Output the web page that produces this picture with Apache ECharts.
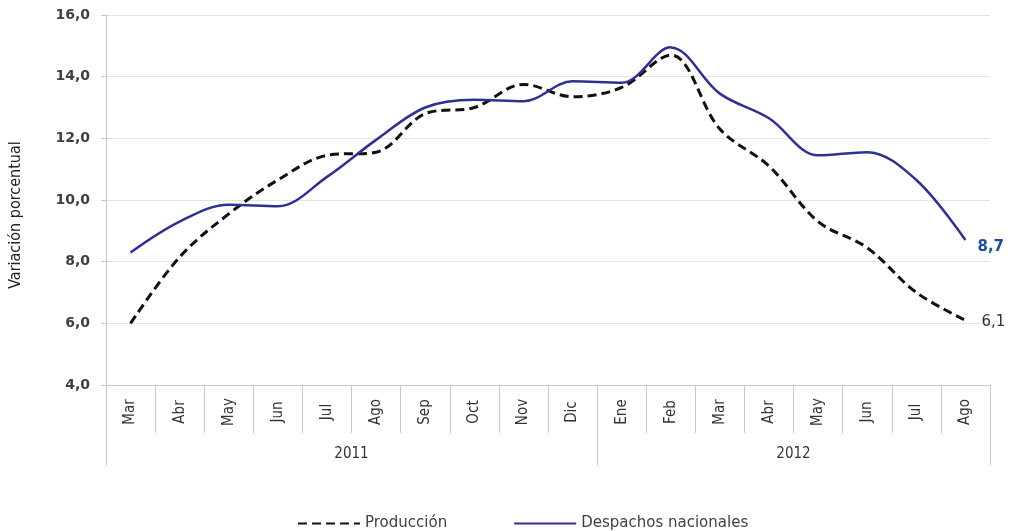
<!DOCTYPE html>
<html>
<head>
<meta charset="utf-8">
<script src="https://cdn.jsdelivr.net/npm/echarts@6/dist/echarts.min.js"></script>
<style>
  html, body { margin: 0; padding: 0; background: #fff; }
  #chart { width: 1018px; height: 531px; }
</style>
</head>
<body>
<div id="chart"></div>
<script>
// months Mar 2011 .. Ago 2012
const months = ['Mar', 'Abr', 'May', 'Jun', 'Jul', 'Ago', 'Sep', 'Oct', 'Nov', 'Dic',
  'Ene', 'Feb', 'Mar', 'Abr', 'May', 'Jun', 'Jul', 'Ago'];
const yearOfMonth = ['2011', '2011', '2011', '2011', '2011', '2011', '2011', '2011', '2011', '2011',
  '2012', '2012', '2012', '2012', '2012', '2012', '2012', '2012'];
const produccion = [6.0, 8.15, 9.55, 10.65, 11.45, 11.55, 12.8, 13.0, 13.75, 13.35,
  13.65, 14.7, 12.3, 11.1, 9.3, 8.45, 7.0, 6.1];
const despachos = [8.3, 9.3, 9.85, 9.8, 10.75, 11.95, 13.0, 13.25, 13.2, 13.85,
  13.8, 14.95, 13.45, 12.65, 11.45, 11.55, 10.65, 8.7];
const yTicks = [4, 16, 2]; // min, max, step

const fmt = v => Number(v).toFixed(1).replace('.', ',');
const narrow = '"Liberation Sans Narrow", "DejaVu Sans Condensed", sans-serif';
const gridColor = '#c8c8c8';

// first index of each year and the label slot for it (centred via padding)
const yearStarts = [0, 10];
const yearLabelAt = [4, 13];

const chart = echarts.init(document.getElementById('chart'), null, { renderer: 'canvas' });

chart.setOption({
  animation: false,
  grid: { left: 104, right: 28, top: 15, bottom: 146 },
  legend: {
    left: 292,
    top: 511,
    itemWidth: 62,
    itemHeight: 12,
    itemGap: 66,
    itemStyle: { opacity: 0 },
    textStyle: { fontFamily: 'DejaVu Sans', fontSize: 15, color: '#404040' },
    data: ['Producción', 'Despachos nacionales']
  },
  xAxis: [
    {
      type: 'category',
      data: months,
      boundaryGap: true,
      axisLine: { lineStyle: { color: gridColor, width: 1 } },
      axisTick: { show: true, interval: 0, length: 48, lineStyle: { color: gridColor } },
      axisLabel: {
        interval: 0,
        rotate: 90,
        align: 'center',
        margin: 27,
        fontFamily: narrow,
        fontSize: 15,
        color: '#333'
      }
    },
    {
      type: 'category',
      data: months,
      position: 'bottom',
      boundaryGap: true,
      axisLine: { show: false },
      axisTick: {
        show: true,
        length: 80,
        interval: i => yearStarts.indexOf(i) >= 0,
        lineStyle: { color: gridColor }
      },
      axisLabel: {
        interval: i => yearLabelAt.indexOf(i) >= 0,
        formatter: (v, i) => yearOfMonth[i],
        margin: 62,
        padding: [0, 0, 0, 49],
        fontFamily: narrow,
        fontSize: 15,
        color: '#333'
      }
    }
  ],
  yAxis: {
    type: 'value',
    min: yTicks[0],
    max: yTicks[1],
    interval: yTicks[2],
    name: 'Variación porcentual',
    nameLocation: 'middle',
    nameRotate: 90,
    nameGap: 82,
    nameTextStyle: { fontFamily: narrow, fontSize: 16, color: '#222', padding: [0, 30, 0, 0] },
    axisLine: { show: true, lineStyle: { color: gridColor } },
    axisTick: { show: true, length: 5, lineStyle: { color: gridColor } },
    splitLine: { lineStyle: { color: '#e4e4e4' } },
    axisLabel: {
      formatter: v => fmt(v),
      margin: 16,
      fontFamily: 'DejaVu Sans',
      fontWeight: 'bold',
      fontSize: 14,
      color: '#404040'
    }
  },
  series: [
    {
      name: 'Producción',
      type: 'line',
      data: produccion,
      smooth: 0.35,
      symbol: 'none',
      color: '#111',
      lineStyle: { color: '#111', width: 3, type: [9, 5] },
      endLabel: {
        show: true,
        formatter: p => fmt(p.value),
        offset: [8, 2],
        fontFamily: 'DejaVu Sans',
        fontSize: 15,
        color: '#333'
      }
    },
    {
      name: 'Despachos nacionales',
      type: 'line',
      data: despachos,
      smooth: 0.35,
      symbol: 'none',
      color: '#2E3192',
      lineStyle: { color: '#2E3192', width: 2.5 },
      endLabel: {
        show: true,
        formatter: p => fmt(p.value),
        offset: [4, 7],
        fontFamily: 'DejaVu Sans',
        fontWeight: 'bold',
        fontSize: 15,
        color: '#1F4E99'
      }
    }
  ]
});
</script>
</body>
</html>
